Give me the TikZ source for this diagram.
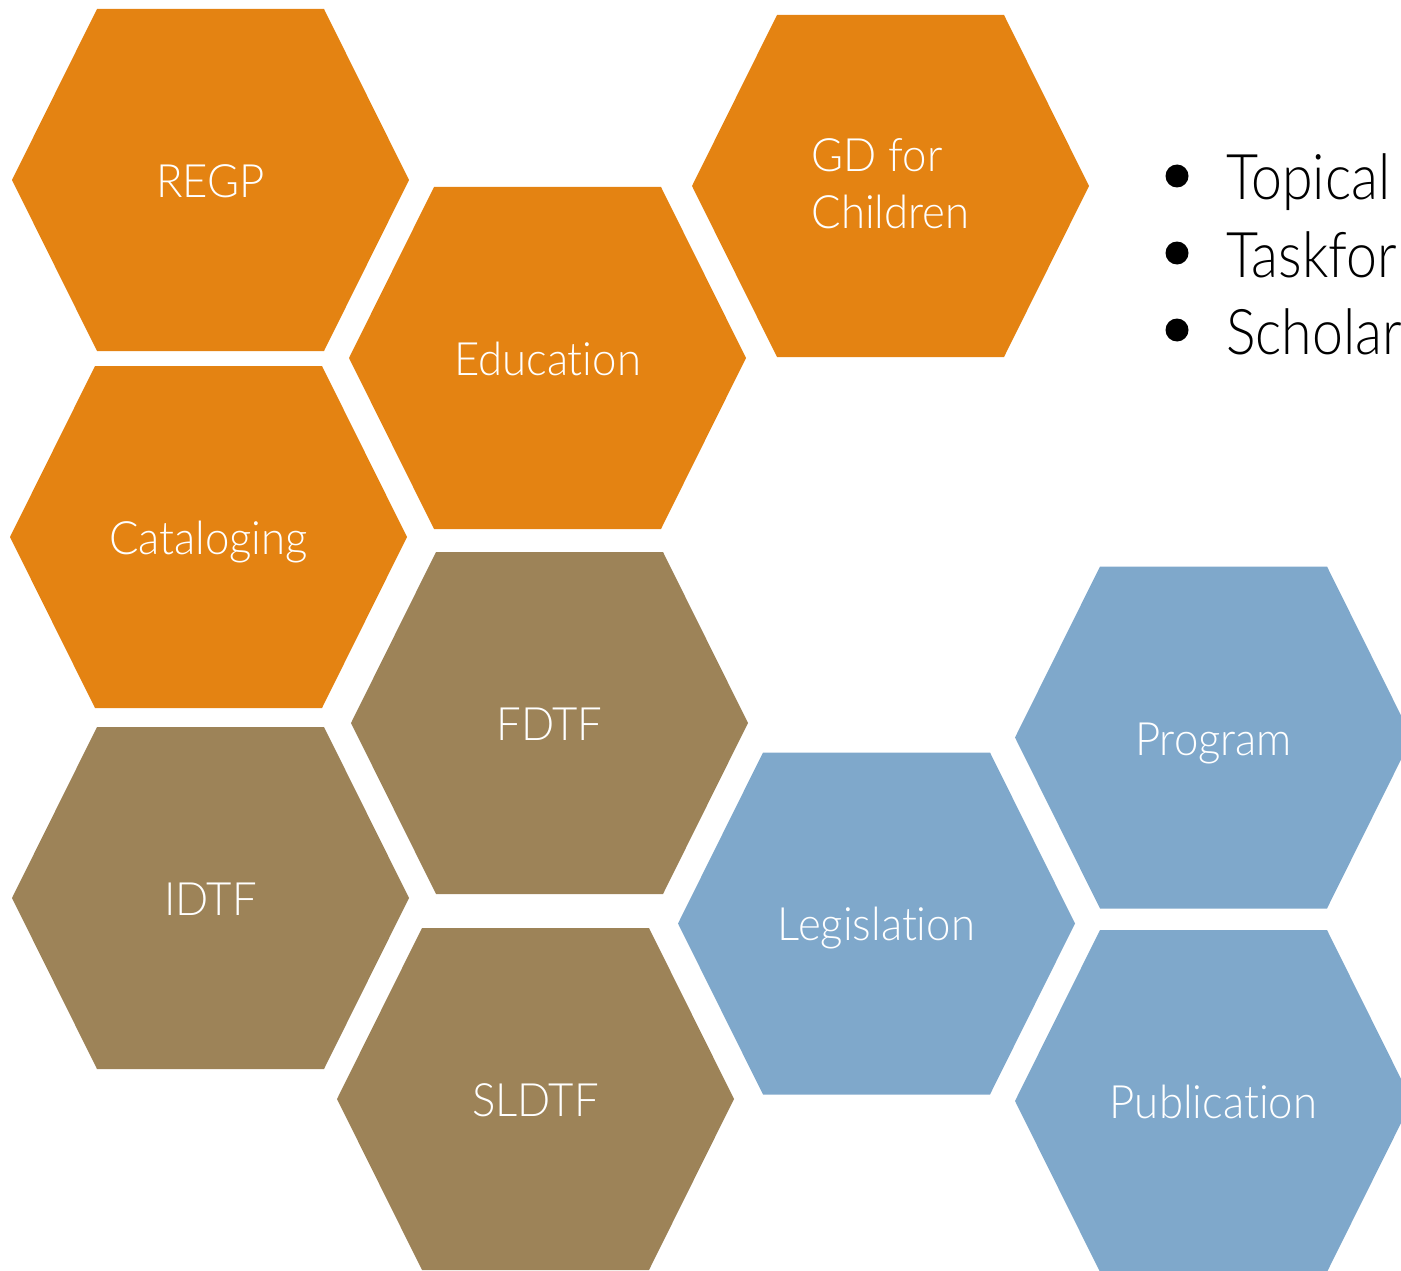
\documentclass[tikz,border=0pt]{standalone}
\usepackage{fontspec}
\setmainfont{Lato}[UprightFont={* Light}, Ligatures=NoCommon, FakeStretch=0.95]
\newfontfamily\bulletfont{Lato}[UprightFont={* Light}, Ligatures=NoCommon, FakeStretch=0.88]
\definecolor{hexorange}{RGB}{228,131,18}
\definecolor{hexbrown}{RGB}{157,131,88}
\definecolor{hexblue}{RGB}{127,168,203}
\tikzset{
  hexlabel/.style={text=white, font=\fontsize{46}{57}\selectfont, inner sep=0pt},
  bulletlabel/.style={text=black, font=\bulletfont\fontsize{63}{70}\selectfont, inner sep=0pt, anchor=base west},
}
\newcommand\hexagonshape[3]{%
  \fill[#3] (#1-198.5,#2) -- (#1-113.5,#2-171) -- (#1+113.5,#2-171) -- (#1+198.5,#2)
    -- (#1+113.5,#2+171) -- (#1-113.5,#2+171) -- cycle;}
\begin{document}
\begin{tikzpicture}[x=1pt,y=-1pt]
\useasboundingbox (0,0) rectangle (1401,1271);
\clip (0,0) rectangle (1401,1271);
% orange
\hexagonshape{210.5}{180}{hexorange}
\node[hexlabel, anchor=base] (regp) at (210.5,197) {REGP};
\hexagonshape{547.5}{358}{hexorange}
\node[hexlabel, anchor=base] (education) at (547.5,375) {Education};
\hexagonshape{890.5}{186}{hexorange}
\node[hexlabel, align=left, anchor=center] (gd) at (890.5,184) {GD for\\Children};
\hexagonshape{208.5}{537}{hexorange}
\node[hexlabel, anchor=base] (cataloging) at (208.5,554) {Cataloging};
% brown
\hexagonshape{549.5}{723}{hexbrown}
\node[hexlabel, anchor=base] (fdtf) at (549.5,740) {FDTF};
\hexagonshape{210.5}{898}{hexbrown}
\node[hexlabel, anchor=base] (idtf) at (210.5,915) {IDTF};
\hexagonshape{535.5}{1099}{hexbrown}
\node[hexlabel, anchor=base] (sldtf) at (535.5,1116) {SLDTF};
% blue
\hexagonshape{876.5}{923.5}{hexblue}
\node[hexlabel, anchor=base] (legislation) at (876.5,940) {Legislation};
\hexagonshape{1213.5}{737.5}{hexblue}
\node[hexlabel, anchor=base] (program) at (1213.5,755) {Program};
\hexagonshape{1213.5}{1101}{hexblue}
\node[hexlabel, anchor=base] (publication) at (1213.5,1118) {Publication};
% bullets
\fill (1177,176) circle (11.5);
\fill (1177,253) circle (11.5);
\fill (1177,330) circle (11.5);
\node[bulletlabel] (topical) at (1226,200) {Topical};
\node[bulletlabel] (taskforce) at (1226,277) {Taskfor};
\node[bulletlabel] (scholar) at (1226,354) {Scholar};
\end{tikzpicture}
\end{document}
